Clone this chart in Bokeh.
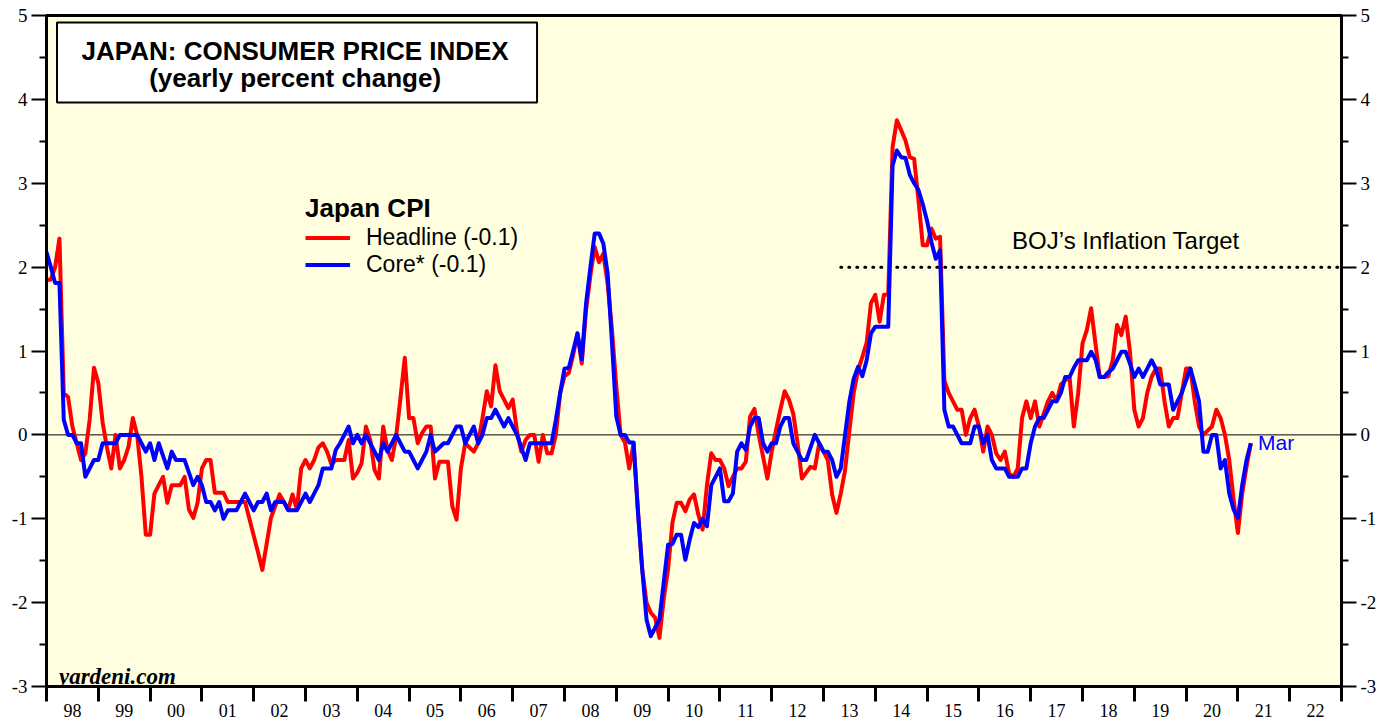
import pandas as pd
from bokeh.plotting import figure
from bokeh.models import (Range1d, LinearAxis, FixedTicker, Span, BoxAnnotation,
                          Label, Legend, LegendItem, ColumnDataSource)
from bokeh.embed import file_html
from bokeh.resources import INLINE

# ---------------- data (monthly, Dec 1997 .. Mar 2021) ----------------
months = pd.date_range("1997-12-31", periods=280, freq="ME")

headline = [
    1.85,
    1.85, 2.0, 2.34, 0.5, 0.45, 0.1, -0.1, -0.3, -0.22, 0.18, 0.8, 0.62,          # 1998
    0.15, -0.15, -0.4, 0.0, -0.4, -0.3, -0.14, 0.2, 0.0, -0.5, -1.19, -1.19,      # 1999
    -0.7, -0.6, -0.5, -0.81, -0.6, -0.6, -0.6, -0.5, -0.89, -0.99, -0.81, -0.4,   # 2000
    -0.3, -0.3, -0.69, -0.69, -0.69, -0.8, -0.8, -0.8, -0.8, -0.8, -1.0, -1.2,    # 2001
    -1.4, -1.61, -1.3, -0.99, -0.85, -0.71, -0.8, -0.89, -0.71, -0.89, -0.4, -0.3, # 2002
    -0.4, -0.3, -0.15, -0.1, -0.2, -0.35, -0.3, -0.3, -0.3, -0.06, -0.52, -0.45,  # 2003
    -0.34, 0.1, -0.06, -0.42, -0.52, 0.1, -0.18, -0.3, -0.02, 0.44, 0.92, 0.2,    # 2004
    0.2, -0.1, 0.02, 0.1, 0.1, -0.52, -0.32, -0.32, -0.32, -0.85, -1.01, -0.4,    # 2005
    -0.1, -0.15, -0.2, -0.1, 0.2, 0.52, 0.34, 0.83, 0.52, 0.42, 0.32, 0.42,       # 2006
    0.04, -0.2, -0.06, 0.0, 0.0, -0.32, 0.0, -0.22, -0.22, 0.0, 0.5, 0.7,         # 2007
    0.74, 0.95, 1.21, 0.85, 1.49, 1.9, 2.24, 2.06, 2.16, 1.8, 1.25, 0.58,         # 2008
    0.0, -0.09, -0.4, -0.1, -0.9, -1.6, -2.0, -2.12, -2.18, -2.42, -1.95, -1.6,   # 2009
    -1.05, -0.81, -0.81, -0.91, -0.77, -0.71, -0.95, -1.13, -0.6, -0.22, -0.3, -0.3, # 2010
    -0.4, -0.61, -0.5, -0.4, -0.4, -0.32, 0.22, 0.31, 0.0, -0.26, -0.52, -0.2,    # 2011
    0.06, 0.3, 0.52, 0.42, 0.25, -0.1, -0.52, -0.45, -0.38, -0.4, -0.1, -0.2,     # 2012
    -0.3, -0.71, -0.93, -0.7, -0.42, 0.05, 0.5, 0.77, 0.93, 1.1, 1.57, 1.67,      # 2013
    1.35, 1.67, 1.67, 3.43, 3.75, 3.63, 3.51, 3.31, 3.29, 2.8, 2.26, 2.26,        # 2014
    2.46, 2.34, 2.36, 0.65, 0.5, 0.4, 0.3, 0.3, 0.0, 0.2, 0.3, 0.1,               # 2015
    -0.2, 0.1, 0.0, -0.22, -0.3, -0.2, -0.46, -0.5, -0.4, 0.2, 0.4, 0.2,          # 2016
    0.4, 0.1, 0.25, 0.4, 0.5, 0.4, 0.6, 0.65, 0.69, 0.1, 0.5, 1.09,               # 2017
    1.25, 1.51, 1.09, 0.69, 0.69, 0.7, 0.89, 1.31, 1.19, 1.41, 0.99, 0.3,         # 2018
    0.1, 0.2, 0.5, 0.69, 0.79, 0.79, 0.4, 0.1, 0.2, 0.2, 0.5, 0.79,               # 2019
    0.79, 0.4, 0.1, 0.0, 0.05, 0.1, 0.3, 0.2, 0.0, -0.3, -0.77, -1.17,            # 2020
    -0.7, -0.38, -0.1,                                                            # 2021
]

core = [
    2.18,
    2.0, 1.81, 1.81, 0.18, 0.0, 0.0, -0.1, -0.1, -0.5, -0.4, -0.3, -0.3,          # 1998
    -0.1, -0.1, -0.1, -0.1, 0.0, 0.0, 0.0, 0.0, 0.0, -0.1, -0.2, -0.1,            # 1999
    -0.3, -0.1, -0.25, -0.4, -0.2, -0.3, -0.3, -0.3, -0.45, -0.6, -0.5, -0.6,     # 2000
    -0.8, -0.8, -0.9, -0.8, -1.0, -0.9, -0.9, -0.9, -0.8, -0.7, -0.8, -0.9,       # 2001
    -0.8, -0.8, -0.7, -0.9, -0.8, -0.8, -0.8, -0.9, -0.9, -0.9, -0.8, -0.7,       # 2002
    -0.8, -0.7, -0.6, -0.4, -0.4, -0.4, -0.18, -0.1, 0.0, 0.1, -0.1, 0.0,         # 2003
    -0.1, 0.0, -0.1, -0.2, -0.3, -0.1, -0.2, -0.1, 0.0, -0.1, -0.2, -0.2,         # 2004
    -0.3, -0.4, -0.3, -0.2, 0.0, -0.2, -0.15, -0.1, -0.1, 0.0, 0.1, 0.1,          # 2005
    -0.1, 0.0, 0.1, -0.1, 0.0, 0.2, 0.2, 0.3, 0.2, 0.1, 0.2, 0.1,                 # 2006
    0.0, -0.15, -0.3, -0.1, -0.1, -0.1, -0.1, -0.1, -0.1, 0.18, 0.5, 0.79,        # 2007
    0.8, 1.0, 1.21, 0.9, 1.57, 2.0, 2.4, 2.4, 2.28, 1.92, 1.1, 0.22,              # 2008
    0.0, 0.0, -0.09, -0.09, -0.9, -1.6, -2.2, -2.4, -2.3, -2.2, -1.75, -1.31,     # 2009
    -1.3, -1.19, -1.19, -1.49, -1.25, -1.05, -1.1, -1.0, -1.09, -0.6, -0.5, -0.4, # 2010
    -0.79, -0.79, -0.7, -0.2, -0.1, -0.18, 0.1, 0.2, 0.2, -0.1, -0.2, -0.1,       # 2011
    -0.1, 0.1, 0.2, 0.2, -0.1, -0.2, -0.3, -0.3, -0.15, 0.0, -0.1, -0.2,          # 2012
    -0.2, -0.3, -0.5, -0.4, 0.0, 0.4, 0.67, 0.81, 0.7, 0.89, 1.21, 1.29,          # 2013
    1.29, 1.29, 1.29, 3.21, 3.39, 3.31, 3.3, 3.1, 3.0, 2.92, 2.75, 2.55,          # 2014
    2.3, 2.1, 2.2, 0.3, 0.1, 0.1, 0.0, -0.1, -0.1, -0.1, 0.1, 0.1,                # 2015
    -0.1, 0.0, -0.3, -0.4, -0.4, -0.4, -0.5, -0.5, -0.5, -0.4, -0.4, -0.1,        # 2016
    0.1, 0.2, 0.2, 0.3, 0.4, 0.4, 0.5, 0.69, 0.69, 0.8, 0.89, 0.89,               # 2017
    0.89, 0.99, 0.9, 0.69, 0.69, 0.75, 0.79, 0.89, 0.99, 0.99, 0.85, 0.69,        # 2018
    0.79, 0.69, 0.79, 0.89, 0.79, 0.6, 0.6, 0.6, 0.3, 0.4, 0.5, 0.65,             # 2019
    0.79, 0.6, 0.4, -0.2, -0.2, 0.0, 0.0, -0.4, -0.3, -0.7, -0.89, -0.99,         # 2020
    -0.6, -0.3, -0.1,                                                             # 2021
]

year_labels = ["98", "99", "00", "01", "02", "03", "04", "05", "06", "07", "08",
               "09", "10", "11", "12", "13", "14", "15", "16", "17", "18", "19",
               "20", "21", "22"]
first_year = 1998
y_ticks = [-3, -2, -1, 0, 1, 2, 3, 4, 5]
boj_target = 2.0
boj_target_start = "2013-04-30"

assert len(headline) == len(months) and len(core) == len(months)

# decimal-year positions (end of month)
xs = (months.year + months.month / 12.0).tolist()
src = ColumnDataSource(dict(x=xs, headline=headline, core=core))

x_start = first_year
x_end = first_year + len(year_labels)

SERIF = "Liberation Serif"
SANS = "Liberation Sans"

p = figure(width=1395, height=719,
           x_range=Range1d(x_start, x_end), y_range=Range1d(min(y_ticks), max(y_ticks)),
           output_backend="svg", toolbar_location=None,
           min_border_left=46, min_border_right=54, min_border_top=15, min_border_bottom=32,
           background_fill_color="#FFFFE0", border_fill_color="white",
           outline_line_color="black", outline_line_width=3)
p.grid.visible = False

# ---- x axis: year boundary ticks, labels centred in each year ----
xa = p.xaxis[0]
mids = [first_year + i + 0.5 for i in range(len(year_labels))]
xa.ticker = FixedTicker(ticks=mids, minor_ticks=[first_year + i for i in range(len(year_labels) + 1)])
xa.major_label_overrides = {m: lbl for m, lbl in zip(mids, year_labels)}
xa.major_tick_out = 0
xa.major_tick_in = 0
xa.minor_tick_out = 15
xa.minor_tick_in = 0
xa.minor_tick_line_width = 3
xa.minor_tick_line_color = "black"
xa.axis_line_width = 3
xa.major_label_text_font = SERIF
xa.major_label_text_font_size = "18px"
xa.major_label_text_color = "black"
xa.major_label_standoff = 2

def style_y(ax):
    ax.ticker = FixedTicker(ticks=y_ticks, minor_ticks=[t + 0.5 for t in y_ticks[:-1]])
    ax.major_label_overrides = {t: str(t) for t in y_ticks}
    ax.major_tick_out = 15
    ax.major_tick_in = 0
    ax.minor_tick_out = 7
    ax.minor_tick_in = 0
    ax.major_tick_line_width = 2
    ax.minor_tick_line_width = 2
    ax.axis_line_width = 3
    ax.major_label_text_font = SERIF
    ax.major_label_text_font_size = "19px"
    ax.major_label_text_color = "black"
    ax.major_label_standoff = 4

style_y(p.yaxis[0])
ry = LinearAxis()
style_y(ry)
p.add_layout(ry, "right")

# zero line
p.add_layout(Span(location=0, dimension="width", line_color="black", line_width=1, level="underlay"))

# BOJ target dotted line
t0 = pd.Timestamp(boj_target_start)
t0x = t0.year + t0.month / 12.0
p.segment(x0=[t0x], y0=[boj_target], x1=[x_end], y1=[boj_target],
          line_color="black", line_width=3, line_dash="1 7", line_cap="round")

r_head = p.line("x", "headline", source=src, line_color="#FF0000", line_width=4, line_join="round")
r_core = p.line("x", "core", source=src, line_color="#0000FF", line_width=4, line_join="round")

legend = Legend(items=[LegendItem(label="Headline (-0.1)", renderers=[r_head]),
                       LegendItem(label="Core* (-0.1)", renderers=[r_core])],
                title="Japan CPI", location=(259, 408),
                title_text_font=SANS, title_text_font_style="bold", title_text_font_size="26px",
                title_text_color="black", title_standoff=0,
                label_text_font=SANS, label_text_font_size="23px", label_text_color="black",
                glyph_width=45, glyph_height=27, label_height=27, label_standoff=16,
                spacing=0, padding=0, margin=0,
                border_line_color=None, background_fill_alpha=0)
p.add_layout(legend)

# title box
p.add_layout(BoxAnnotation(left=1998.203, right=2007.47, top=4.917, bottom=3.964,
                           fill_color="white", fill_alpha=1.0,
                           line_color="black", line_alpha=1.0, line_width=2))
p.add_layout(Label(x=2002.8, y=4.577, text="JAPAN: CONSUMER PRICE INDEX",
                   text_align="center", text_baseline="middle", text_font=SANS,
                   text_font_style="bold", text_font_size="26px", text_color="black"))
p.add_layout(Label(x=2002.8, y=4.25, text="(yearly percent change)",
                   text_align="center", text_baseline="middle", text_font=SANS,
                   text_font_style="bold", text_font_size="26px", text_color="black"))

p.add_layout(Label(x=2016.64, y=2.315, text="BOJ\u2019s Inflation Target",
                   text_align="left", text_baseline="middle", text_font=SANS,
                   text_font_size="24px", text_color="black"))
p.add_layout(Label(x=2021.39, y=-0.095, text="Mar",
                   text_align="left", text_baseline="middle", text_font=SANS,
                   text_font_size="21px", text_color="#0000FF"))
p.add_layout(Label(x=1998.24, y=-2.881, text="yardeni.com",
                   text_align="left", text_baseline="alphabetic", text_font=SERIF,
                   text_font_style="bold italic", text_font_size="23px", text_color="black"))

open("out.html", "w").write(file_html(p, INLINE))
